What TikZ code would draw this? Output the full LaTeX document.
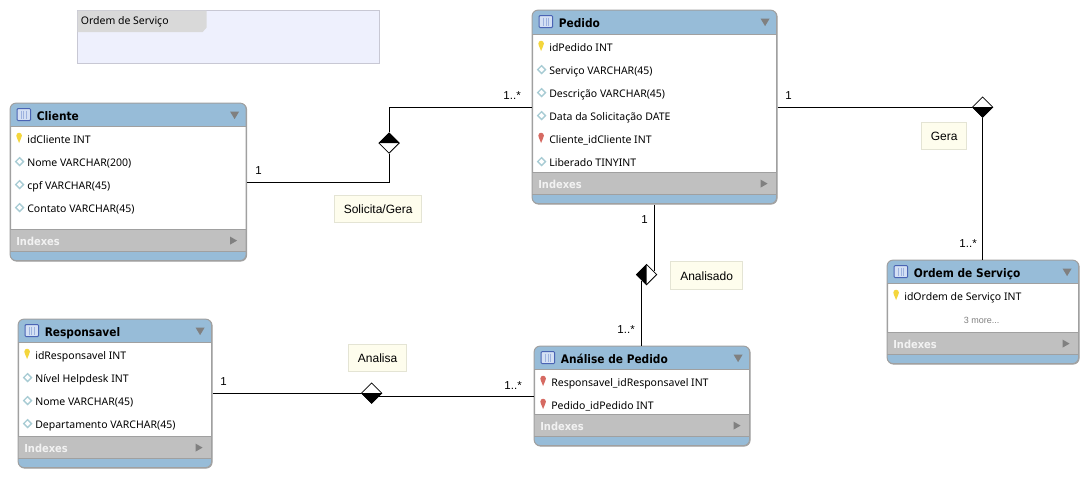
\documentclass[tikz,border=0pt]{standalone}
\usepackage{fontspec}
\setmainfont{Noto Sans}
\newfontfamily\lblfont{Liberation Sans}
\newfontfamily\titlefont{DejaVu Sans}[FakeStretch=0.9]
\usetikzlibrary{shapes.geometric,calc}
\definecolor{hdr}{HTML}{97BCD8}
\definecolor{edgeg}{HTML}{A0A0A0}
\definecolor{idxbg}{HTML}{C0C0C0}
\definecolor{noteb}{HTML}{E4E4D4}
\definecolor{notef}{HTML}{FEFDED}
\definecolor{layerf}{HTML}{EEF0FD}
\definecolor{layerb}{HTML}{C8C8D4}
\definecolor{layert}{HTML}{D9D9D9}
\definecolor{teal}{HTML}{A8CCD4}
\definecolor{keyy}{HTML}{F4D63C}
\definecolor{keyr}{HTML}{D66A62}
\definecolor{iconb}{HTML}{4A64B4}
\definecolor{iconf}{HTML}{D4E0F4}
\definecolor{iconl}{HTML}{9DB2DE}
\definecolor{tri}{HTML}{808080}
\tikzset{
  rowtext/.style={anchor=west,inner sep=0pt,text height=8pt,text depth=2.5pt,font=\fontsize{10.5}{12}\selectfont,text=black},
  titletext/.style={anchor=west,inner sep=0pt,text height=9pt,text depth=3pt,font=\titlefont\bfseries\fontsize{11.8}{13}\selectfont},
  idxtext/.style={anchor=west,inner sep=0pt,text height=8pt,text depth=0pt,font=\titlefont\bfseries\fontsize{11}{12}\selectfont,text=white!90!gray},
  note/.style={draw=noteb,fill=notef,inner sep=0pt,minimum height=27.5pt,text height=11pt,text depth=1pt,font=\lblfont\fontsize{12}{13}\selectfont,text=black},
  card/.style={inner sep=0pt,anchor=base,font=\lblfont\fontsize{11.5}{13}\selectfont,text=black},
  relwire/.style={draw=black,line width=1pt},
  rel/.style={diamond,draw=black,fill=white,line width=.8pt,inner sep=0pt,minimum width=20.5pt,minimum height=20.5pt},
  box/.style={draw=edgeg,line width=1pt,rounded corners=6pt,inner sep=0pt,anchor=north west}
}
% key icon
\newcommand{\keyicon}[3]{%
  \fill[#3] (#1-2.8,#2-3) .. controls (#1-2.8,#2-6.8) and (#1+2.8,#2-6.8) .. (#1+2.8,#2-3) .. controls (#1+2.8,#2-0.5) and (#1+1.2,#2) .. (#1+1.2,#2+1.5) -- (#1,#2+4.5) -- (#1-1.2,#2+1.5) .. controls (#1-1.2,#2) and (#1-2.8,#2-0.5) .. (#1-2.8,#2-3) -- cycle;}
% plain column icon
\newcommand{\colicon}[2]{%
  \draw[teal,fill=white,line width=1.3pt] (#1-3.9,#2) -- (#1,#2-3.9) -- (#1+3.9,#2) -- (#1,#2+3.9) -- cycle;}
% entity: name x1 y1 x2 y2(bottom) headerbottom idxtop title rows(kind/text)
\newcommand{\entity}[9]{%
  \node[box,minimum width={#4-#2},minimum height={#5-#3},fill=white] (#1) at (#2,#3) {};
  \begin{scope}
    \clip[rounded corners=6pt] (#2,#3) rectangle (#4,#5);
    \fill[hdr] (#2,#3) rectangle (#4,#6);
    \fill[idxbg] (#2,#7) rectangle (#4,#7+22);
    \fill[hdr] (#2,#7+22) rectangle (#4,#5);
    \draw[edgeg,line width=.8pt] (#2,#6) -- (#4,#6) (#2,#7) -- (#4,#7) (#2,#7+22) -- (#4,#7+22);
  \end{scope}
  \draw[edgeg,line width=1pt,rounded corners=6pt] (#2,#3) rectangle (#4,#5);
  % table icon
  \draw[fill=iconf,draw=iconb,line width=1pt,rounded corners=1pt] (#2+7,#3+5.5) rectangle (#2+20.5,#3+17.5);
  \draw[draw=iconl,line width=.8pt] (#2+11,#3+7.5) -- (#2+11,#3+16) (#2+13.8,#3+7.5) -- (#2+13.8,#3+16) (#2+16.6,#3+7.5) -- (#2+16.6,#3+16);
  \node[titletext] (#1title) at (#2+26.5,#3+14.2) {#8};
  \fill[tri] (#4-16,#3+8.5) -- (#4-7,#3+8.5) -- (#4-11.5,#3+16) -- cycle;
  \node[idxtext] (#1idx) at (#2+6,#7+11.8) {Indexes};
  \fill[tri] (#4-16,#7+7) -- (#4-16,#7+15) -- (#4-9,#7+11) -- cycle;
  \foreach \kind/\txt [count=\i from 0] in {#9} {
    \pgfmathsetmacro{\ry}{#6+12+23*\i}
    \ifnum\kind=1 \keyicon{#2+9}{\ry}{keyy}\fi
    \ifnum\kind=2 \keyicon{#2+9}{\ry}{keyr}\fi
    \ifnum\kind=0 \colicon{#2+9.5}{\ry}\fi
    \node[rowtext] (#1row\i) at (#2+17,\ry+1.7) {\txt};
  }
}
\begin{document}
\begin{tikzpicture}[x=1pt,y=-1pt]
\useasboundingbox (0.4,0.4) rectangle (1088.4,477.4);
% layer
\node[draw=layerb,fill=layerf,line width=1pt,inner sep=0pt,minimum width=302pt,minimum height=53pt,anchor=north west] (layer) at (77.5,10.5) {};
\fill[layert] (78,11) -- (207,11) -- (207,28) -- (203,32.5) -- (78,32.5) -- cycle;
\node[rowtext] (layertitle) at (81,22) {Ordem de Serviço};

\entity{cli}{10.5}{103.5}{246.5}{261}{127}{230}{Cliente}{1/idCliente INT,0/Nome VARCHAR(200),0/cpf VARCHAR(45),0/Contato VARCHAR(45)}
\entity{ped}{532.5}{10.5}{777}{204}{35}{173}{Pedido}{1/idPedido INT,0/Serviço VARCHAR(45),0/Descrição VARCHAR(45),0/Data da Solicitação DATE,2/Cliente\_idCliente INT,0/Liberado TINYINT}
\entity{ord}{887.5}{260.5}{1079}{364}{284}{333}{Ordem de Serviço}{1/idOrdem de Serviço INT}
\node[inner sep=0pt,font=\lblfont\fontsize{9}{11}\selectfont,text=gray] (more) at (982,320.5) {3 more...};
\entity{res}{18.5}{319.5}{212}{468}{343}{437}{Responsavel}{1/idResponsavel INT,0/Nível Helpdesk INT,0/Nome VARCHAR(45),0/Departamento VARCHAR(45)}
\entity{ana}{534.5}{346.5}{750}{446}{370}{415}{Análise de Pedido}{2/Responsavel\_idResponsavel INT,2/Pedido\_idPedido INT}

% relationship diamonds
\coordinate (c1) at (389.5,143.5);
\coordinate (c2) at (983,107.5);
\coordinate (c3) at (647,275);
\coordinate (c4) at (372,393.5);
\node[rel] (d1) at (c1) {};
\node[rel] (d2) at (c2) {};
\node[rel] (d3) at (c3) {};
\node[rel] (d4) at (c4) {};

% connectors
\draw[relwire] (cli.east |- 0,182.5) -- (389.5,182.5) -- (d1.south);
\draw[relwire] (d1.north) -- (389.5,107.5) -- (ped.west |- 0,107.5);
\draw[relwire] (ped.east |- 0,107.5) -- (d2.west);
\draw[relwire] (d2.south) -- (ord.north -| d2);
\draw[relwire] (ped.south -| 654.5,0) -- (654.5,271.5);
\draw[relwire] (641.5,281) -- (ana.north -| 641.5,0);
\draw[relwire] (res.east |- 0,393.5) -- (d4.west);
\draw[relwire] (378,396.5) -- (ana.west |- 0,396.5);

% filled halves
\fill[black] (d1.west) -- (d1.north) -- (d1.east) -- cycle;
\fill[black] (d2.west) -- (d2.south) -- (d2.east) -- cycle;
\fill[black] (d3.north) -- (d3.west) -- (d3.south) -- cycle;
\fill[black] (d4.west) -- (d4.south) -- (d4.east) -- cycle;

% notes
\node[note,minimum width=87pt] (n1) at (378.5,209) {Solicita/Gera};
\node[note,minimum width=45pt] (n2) at (944.5,136) {Gera};
\node[note,minimum width=72pt] (n3) at (707,275.5) {Analisado};
\node[note,minimum width=58pt] (n4) at (378,358) {Analisa};

% cardinalities
\node[card] (k1) at (259,174.5) {1};
\node[card] (k2) at (512.5,99.5) {1..*};
\node[card] (k3) at (789,99.5) {1};
\node[card] (k4) at (968.5,247.5) {1..*};
\node[card] (k5) at (645,223.5) {1};
\node[card] (k6) at (626.5,333.5) {1..*};
\node[card] (k7) at (224,385.5) {1};
\node[card] (k8) at (513.5,389.5) {1..*};
\end{tikzpicture}
\end{document}
